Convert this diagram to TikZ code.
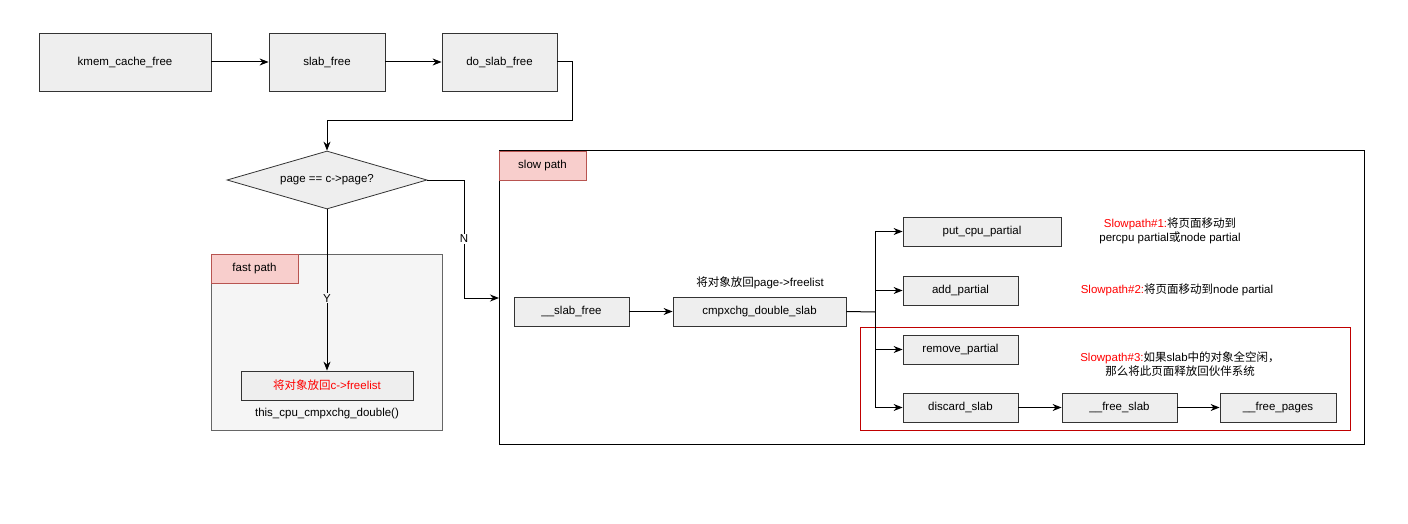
\documentclass[tikz,border=0pt]{standalone}
\usepackage{fontspec}
\setmainfont{Liberation Sans}
\newfontfamily\cjk{Noto Sans CJK SC}
\usetikzlibrary{arrows.meta,shapes.geometric}
\definecolor{boxfill}{HTML}{EEEEEE}
\definecolor{lblfill}{HTML}{F8CECC}
\definecolor{lblline}{HTML}{B85450}
\definecolor{fastfill}{HTML}{F5F5F5}
\definecolor{fastline}{HTML}{666666}
\definecolor{redtxt}{HTML}{FF0000}
\definecolor{redbox}{HTML}{C00000}
\newcommand{\zh}[1]{{\cjk #1}}
\begin{document}
\begin{tikzpicture}[x=1pt,y=-1pt,
  font=\fontsize{11.5}{14}\selectfont,
  box/.style={draw=black!80,fill=boxfill,line width=0.8pt,inner sep=0pt},
  lbl/.style={draw=lblline,fill=lblfill,line width=0.8pt,inner sep=0pt},
  arr/.style={-{Stealth[length=9pt,width=7pt]},line width=1pt},
  ln/.style={line width=1pt},
  txt/.style={inner sep=0pt,align=center}]
\useasboundingbox (0,0) rectangle (1408,524);
% containers
\draw[fill=fastfill,draw=fastline,line width=0.8pt] (211,254) rectangle (442,430);
\node[lbl,minimum width=87pt,minimum height=29pt] (fp) at (254.5,268.5) {fast path};
\draw[line width=1pt] (499,151) rectangle (1364,444);
\node[lbl,minimum width=87pt,minimum height=29pt] (sp) at (542.5,165.5) {slow path};
\draw[draw=redbox,line width=1pt] (860,327) rectangle (1350,430);
% top row
\node[box,minimum width=172pt,minimum height=58pt] (k) at (125,62) {kmem\_cache\_free};
\node[box,minimum width=116pt,minimum height=58pt] (s) at (327,62) {slab\_free};
\node[box,minimum width=115pt,minimum height=58pt] (d) at (499.5,62) {do\_slab\_free};
\node[diamond,draw=black!80,fill=boxfill,line width=0.8pt,minimum width=200pt,minimum height=58pt,inner sep=0pt,aspect=3.4] (q) at (327,180) {page == c->page?};
\node[box,minimum width=172pt,minimum height=29pt,text=redtxt] (fl) at (327,385.5) {\zh{将对象放回}c->freelist};
\node[txt] (tc) at (327,414) {this\_cpu\_cmpxchg\_double()};
\coordinate (j) at (875,312);
\node[box,minimum width=115pt,minimum height=29pt] (sf) at (571.5,311.5) {\_\_slab\_free};
\node[box,minimum width=173pt,minimum height=29pt] (cx) at (759.5,311.5) {cmpxchg\_double\_slab};
\node[txt] (cxl) at (760,283) {\zh{将对象放回}page->freelist};
\node[box,minimum width=158pt,minimum height=29pt] (pc) at (982,231.5) {put\_cpu\_partial};
\node[box,minimum width=115pt,minimum height=29pt] (ap) at (960.5,290.5) {add\_partial};
\node[box,minimum width=115pt,minimum height=29pt] (rp) at (960.5,349.5) {remove\_partial};
\node[box,minimum width=115pt,minimum height=29pt] (ds) at (960.5,407.5) {discard\_slab};
\node[box,minimum width=115pt,minimum height=29pt] (fs) at (1119.5,407.5) {\_\_free\_slab};
\node[box,minimum width=116pt,minimum height=29pt] (fpg) at (1278,407.5) {\_\_free\_pages};
% texts
\node[txt] (t1) at (1170,231) {\textcolor{redtxt}{Slowpath\#1:}\zh{将页面移动到}\\percpu partial\zh{或}node partial};
\node[txt] (t2) at (1177,290) {\textcolor{redtxt}{Slowpath\#2:}\zh{将页面移动到}node partial};
\node[txt] (t3) at (1180,364) {\textcolor{redtxt}{Slowpath\#3:}\zh{如果}slab\zh{中的对象全空闲，}\\\zh{那么将此页面释放回伙伴系统}};
% connectors
\draw[arr] (k) -- (s);
\draw[arr] (s) -- (d);
\draw[arr] (d.east) -- (572,62) -- (572,121) -- (327,121) -- (q.north);
\draw[arr] (q.south) -- node[fill=fastfill,inner sep=1pt,pos=0.55]{Y} (fl.north);
\draw[arr] (q.east) -- (464,180) -- node[fill=white,inner sep=1pt,pos=0.5]{N} (464,298) -- (499,298);
\draw[arr] (sf) -- (cx);
\draw[ln] (cx.east) -- (j);
\draw[arr] (j) |- (pc.west);
\draw[arr] (j) |- (ap.west);
\draw[arr] (j) |- (rp.west);
\draw[arr] (j) |- (ds.west);
\draw[arr] (ds) -- (fs);
\draw[arr] (fs) -- (fpg);
\end{tikzpicture}
\end{document}
